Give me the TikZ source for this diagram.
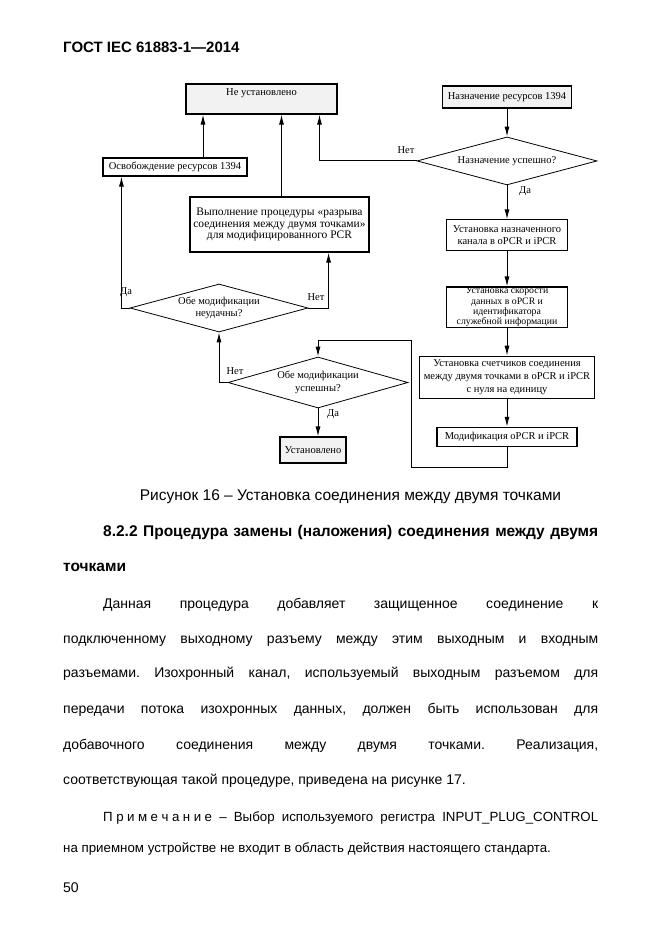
\documentclass[tikz,border=0pt]{standalone}
\usepackage{fontspec}
\setmainfont{Liberation Sans}
\newfontfamily\schemefont{Liberation Serif}
\usetikzlibrary{arrows.meta, positioning, shapes.geometric, patterns.meta}
\frenchspacing

\begin{document}
\begin{tikzpicture}[
		x=1pt, y=-1pt,
		box/.style={draw, line width=1.1pt, align=center, inner sep=2pt, font=\schemefont\fontsize{10.5}{12}\selectfont},
		shaded/.style={box, pattern={Dots[distance=2pt, radius=0.3pt]}, pattern color=black!60},
		decision/.style={draw, diamond, aspect=3.7, line width=0.8pt, inner sep=0pt, align=center, font=\schemefont\fontsize{10.5}{12.5}\selectfont},
		answer/.style={inner sep=0pt, font=\schemefont\fontsize{10.5}{12}\selectfont},
		arrow/.style={-{Latex[length=10pt, width=5pt]}, line width=1pt},
		bodytext/.style={inner sep=0pt, anchor=base west, font=\fontsize{14}{16}\selectfont}
	]

		% Page
		\fill[white] (0,0) rectangle (661,936);
		\useasboundingbox (0,0) rectangle (661,936);

		% Nodes
		\node[shaded, minimum width=151pt, minimum height=30pt, text height=8pt, text depth=15pt] (notset) at (261.5,99) {Не установлено};
		\node[shaded, minimum width=129pt, minimum height=22pt] (assign) at (507,97) {Назначение ресурсов 1394};
		\node[decision, minimum width=180pt, minimum height=48pt, below=28pt of assign] (granted) {Назначение успешно?};
		\node[box, minimum width=121pt, minimum height=31pt, below=34pt of granted] (channel) {Установка назначенного\\канала в oPCR и iPCR};
		\node[box, minimum width=121pt, minimum height=38pt, inner sep=0.5pt, below=35pt of channel, font=\schemefont\fontsize{9.8}{10.2}\selectfont] (rate) {Установка скорости\\данных в oPCR и\\идентификатора\\служебной информации};
		\node[box, minimum width=175pt, minimum height=42pt, below=28pt of rate, font=\schemefont\fontsize{10.5}{13}\selectfont] (counter) {Установка счетчиков соединения\\между двумя точками в oPCR и iPCR\\с нуля на единицу};
		\node[box, minimum width=140pt, minimum height=19pt, below=28pt of counter] (modify) {Модификация oPCR и iPCR};

		\node[box, minimum width=144pt, minimum height=18pt] (release) at (175,167) {Освобождение ресурсов 1394};
		\node[box, minimum width=179pt, minimum height=55pt, font=\schemefont\fontsize{11.5}{11.7}\selectfont] (breakpp) at (279.5,224.5) {Выполнение процедуры «разрыва\\соединения между двумя точками»\\для модифицированного PCR};
		\node[decision, minimum width=178pt, minimum height=48pt] (bothfail) at (219,308) {Обе модификации\\неудачны?};
		\node[decision, minimum width=180pt, minimum height=51pt] (bothok) at (318,382.5) {Обе модификации\\успешны?};
		\node[shaded, minimum width=66pt, minimum height=26pt] (done) at (313,450) {Установлено};
		\coordinate (loop) at (411,340);

		% Labels
		\node[answer] (no1) at (406,150) {Нет};
		\node[answer] (yes1) at (525,191) {Да};
		\node[answer] (yes2) at (126,292) {Да};
		\node[answer] (no2) at (316,297) {Нет};
		\node[answer] (no3) at (235,371) {Нет};
		\node[answer] (yes3) at (333,414) {Да};

		% Arrows
		\draw[arrow] (assign) -- (granted);
		\draw[arrow] (granted) -- (channel);
		\draw[arrow] (channel) -- (rate);
		\draw[arrow] (rate) -- (counter);
		\draw[arrow] (counter) -- (modify);
		\draw[arrow] (modify.south) -- ++(0,21) -| (loop) -| (bothok.north);
		\draw[arrow] (granted.west) -| ([xshift=58pt]notset.south);
		\draw[arrow] ([xshift=28pt]release.north) -- ([xshift=28pt]release.north |- notset.south);
		\draw[arrow] ([xshift=2pt]breakpp.north) -- ([xshift=2pt]breakpp.north |- notset.south);
		\draw[arrow] (bothfail.west) -| ([xshift=19pt]release.south west);
		\draw[arrow] (bothfail.east) -| ([xshift=-41pt]breakpp.south east);
		\draw[arrow] (bothok.west) -| (bothfail.south);
		\draw[arrow] (bothok.south) -- (bothok.south |- done.north);

		% Text
		\node[inner sep=0pt, anchor=base west, font=\bfseries\fontsize{15}{17}\selectfont] (header) at (63,53) {ГОСТ IEC 61883-1—2014};
		\node[inner sep=0pt, anchor=base, font=\fontsize{15.5}{17}\selectfont] (caption) at (350.5,500) {Рисунок 16 – Установка соединения между двумя точками};
		\node[bodytext, font=\bfseries\fontsize{15.5}{17}\selectfont] (sec1) at (103,536) {\makebox[495pt][s]{8.2.2 Процедура замены (наложения) соединения между двумя}};
		\node[bodytext, font=\bfseries\fontsize{15.5}{17}\selectfont] (sec2) at (63,571) {точками};
		\node[bodytext] (par1) at (103,608) {\makebox[495pt][s]{Данная процедура добавляет защищенное соединение к}};
		\node[bodytext] (par2) at (63,643) {\makebox[535pt][s]{подключенному выходному разъему между этим выходным и входным}};
		\node[bodytext] (par3) at (63,677) {\makebox[535pt][s]{разъемами. Изохронный канал, используемый выходным разъемом для}};
		\node[bodytext] (par4) at (63,713) {\makebox[535pt][s]{передачи потока изохронных данных, должен быть использован для}};
		\node[bodytext] (par5) at (63,749) {\makebox[535pt][s]{добавочного соединения между двумя точками. Реализация,}};
		\node[bodytext] (par6) at (63,784) {соответствующая такой процедуре, приведена на рисунке 17.};
		\node[bodytext, font=\fontsize{13.3}{15}\selectfont] (note1) at (103,821) {\makebox[495pt][s]{П\hspace{3.5pt}р\hspace{3.5pt}и\hspace{3.5pt}м\hspace{3.5pt}е\hspace{3.5pt}ч\hspace{3.5pt}а\hspace{3.5pt}н\hspace{3.5pt}и\hspace{3.5pt}е – Выбор используемого регистра INPUT\_PLUG\_CONTROL}};
		\node[bodytext, font=\fontsize{13.3}{15}\selectfont] (note2) at (63,852) {на приемном устройстве не входит в область действия настоящего стандарта.};
		\node[bodytext] (page) at (63,892) {50};

	\end{tikzpicture}
\end{document}
